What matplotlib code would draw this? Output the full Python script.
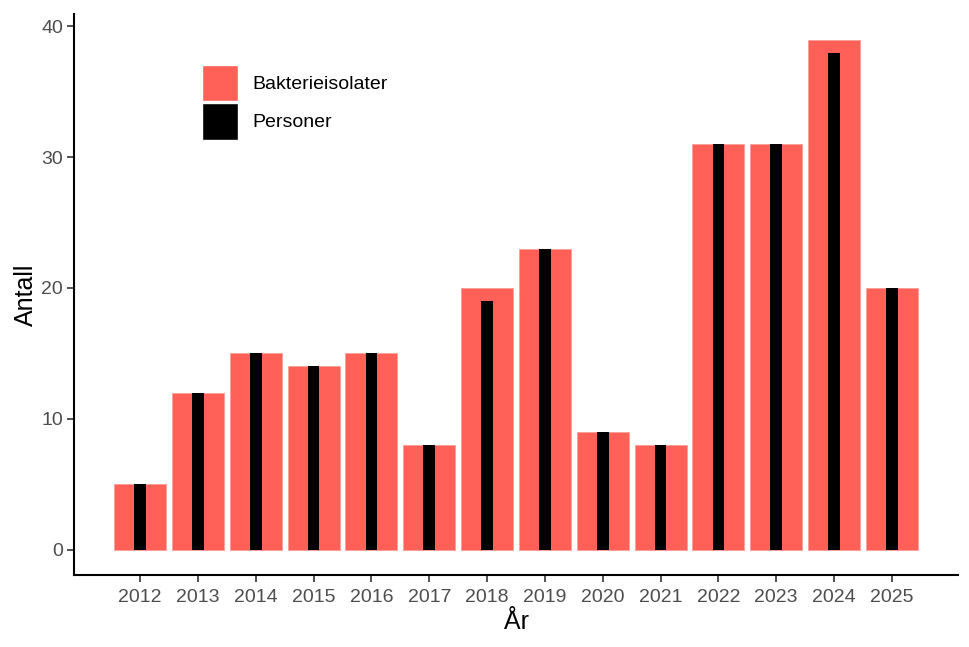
import matplotlib
matplotlib.use("Agg")
import matplotlib.pyplot as plt
from matplotlib.patches import Patch

years = [2012, 2013, 2014, 2015, 2016, 2017, 2018, 2019, 2020, 2021, 2022, 2023, 2024, 2025]
bakterieisolater = [5, 12, 15, 14, 15, 8, 20, 23, 9, 8, 31, 31, 39, 20]
personer = [5, 12, 15, 14, 15, 8, 19, 23, 9, 8, 31, 31, 38, 20]
yticks = [0, 10, 20, 30, 40]

plt.rcParams['font.family'] = ['Liberation Sans', 'DejaVu Sans']

red = "#FF6058"
fig = plt.figure(figsize=(9.7, 6.47), dpi=100)
ax = fig.add_axes([74/970, 72/647, (958-74)/970, (633-72)/647])

ax.bar(years, bakterieisolater, width=0.9, color=red, edgecolor="#FF9C96", linewidth=0.6, zorder=2)
ax.bar(years, personer, width=0.2, color="black", linewidth=0, zorder=3)

ax.set_xlim(2010.855, 2026.145)
ax.set_ylim(-1.95, 40.95)
ax.set_xticks(years)
ax.set_xticklabels([str(y) for y in years])
ax.set_yticks(yticks)

for s in ["top", "right"]:
    ax.spines[s].set_visible(False)
for s in ["left", "bottom"]:
    ax.spines[s].set_linewidth(1.5)
    ax.spines[s].set_color("black")

ax.tick_params(axis="both", length=5, width=1.2, color="#333333",
               labelsize=14, labelcolor="#4D4D4D", pad=3)
ax.tick_params(axis="x", pad=5)

ax.set_xlabel("År", fontsize=18, labelpad=3)
ax.set_ylabel("Antall", fontsize=18, labelpad=2)

handles = [Patch(facecolor=red, edgecolor="white", label="Bakterieisolater"),
           Patch(facecolor="black", edgecolor="white", label="Personer")]
leg = ax.legend(handles=handles, loc="upper left", bbox_to_anchor=(0.134, 0.9265),
                frameon=False, fontsize=14, handlelength=1.85, handleheight=2.5,
                handletextpad=0.72, labelspacing=0.1, borderpad=0)

fig.savefig("out.png", dpi=100)
